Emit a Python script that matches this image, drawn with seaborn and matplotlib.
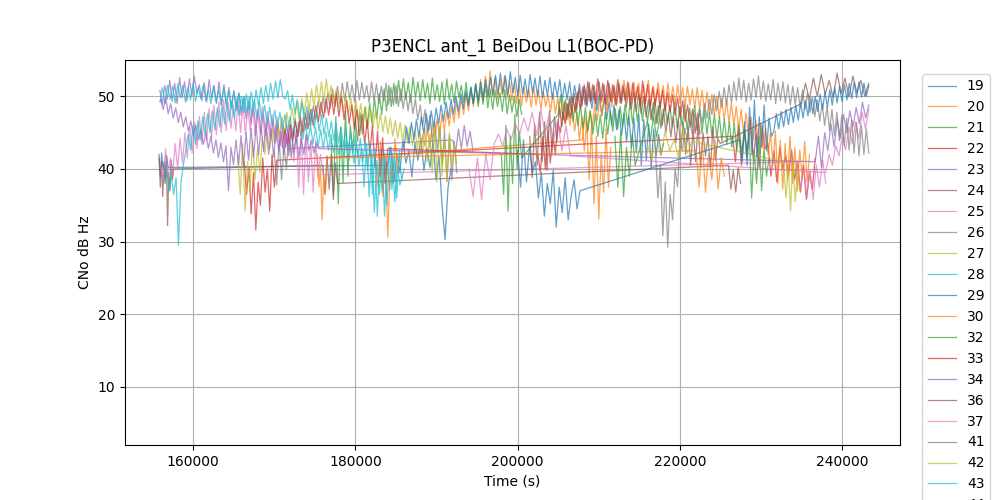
import numpy as np
import pandas as pd
import matplotlib
matplotlib.use("Agg")
import matplotlib.pyplot as plt
from matplotlib.lines import Line2D
import seaborn as sns

labels = ["19", "20", "21", "22", "23", "24", "25", "26", "27", "28", "29", "30",
          "32", "33", "34", "36", "37", "41", "42", "43", "44", "45", "46"]

# pass time spans (s) and CN0 values (dB Hz) per satellite
st19 = [(155800, 156900), (184000, 191800)]
sv19 = [[41.5, 39.0, 42.2, 40.1, 41.0, 38.8, 41.8, 40.2],
        [40.5, 43.0, 38.2, 42.1, 39.5, 44.0, 40.8, 42.5, 38.9, 43.6, 41.2, 44.3, 39.8, 42.9, 40.2, 43.8, 38.5, 41.7, 35.0, 30.3, 37.5, 40.0]]
st20 = [(188000, 211500)]
sv20 = [[42.0, 44.8, 43.1, 45.6, 42.9, 46.2, 44.0, 46.8, 44.5, 47.5, 45.2, 48.0, 45.9, 48.6, 46.4, 49.3, 47.0, 49.8, 47.5, 50.4,
         48.0, 51.0, 48.6, 51.6, 49.0, 52.3, 49.4, 52.8, 49.8, 53.5, 50.0, 52.6, 49.6, 52.2, 50.2, 52.9, 49.7, 52.0, 49.4, 51.8,
         49.0, 51.6, 48.7, 51.3, 49.2, 51.0, 48.5, 51.4, 48.8, 50.9, 48.2, 50.6, 48.6, 50.2, 47.9, 50.5, 47.6, 49.8, 47.2, 49.5,
         46.5, 49.0, 46.0, 48.4, 45.2, 47.8, 44.0, 47.2, 42.5, 46.5,
         38.5, 46.0, 35.2, 44.5, 33.1, 42.0, 36.8, 45.5, 37.5, 43.0]]
st21 = [(177000, 200500)]
sv21 = [[44.0, 36.5, 47.2, 35.2, 45.8, 38.1, 48.0, 39.0,
         46.0, 42.5, 47.2, 43.8, 47.8, 44.8, 48.5, 45.6, 49.0, 46.2, 49.8, 46.9, 50.4, 47.5, 51.0, 48.0, 51.5, 48.6, 51.8, 49.0, 52.2, 49.3, 52.4, 49.6,
         51.9, 49.2, 52.6, 49.8, 52.0, 49.4, 52.3, 49.7, 51.8, 49.0, 52.5, 49.5, 51.6, 49.3, 52.0, 48.9, 52.4, 49.6, 51.7, 49.1, 52.1, 49.8, 51.5, 49.2,
         51.9, 48.8, 51.3, 49.0, 51.8, 48.6, 51.2, 48.9, 51.5, 48.4, 51.0, 48.2, 50.8, 48.6, 50.5, 47.9, 50.9, 47.6, 50.2, 47.8, 50.0, 47.2, 49.6, 47.5]]
st22 = [(166300, 170300), (226500, 236700)]
sv22 = [[41.0, 36.5, 40.2, 33.8, 39.5, 31.6, 38.2, 35.0, 41.5, 36.8, 40.0, 34.2, 42.0, 37.5, 41.2],
        [44.5, 41.0, 46.2, 40.5, 45.0, 42.2, 47.0, 41.5, 44.8, 40.2, 46.0, 42.8, 43.5, 39.0, 42.5, 38.2, 43.0, 40.0, 41.8, 39.2, 42.6, 38.5, 41.0, 36.8, 40.5, 35.8, 39.5, 37.2, 41.5]]
st23 = [(155900, 172000), (192000, 194500)]
sv23 = [[50.8, 48.9, 51.5, 49.6, 52.2, 49.3, 51.8, 49.0, 52.6, 49.8, 52.0, 49.4, 52.4, 50.0, 52.8, 50.4, 51.6, 49.4, 51.9, 49.2, 52.3, 49.7, 51.5, 49.0, 52.0, 48.8, 51.6, 48.6, 51.2, 48.3, 50.8, 48.0, 50.5, 47.4,
         49.8, 46.9, 49.2, 46.2, 48.6, 45.6, 48.2, 45.1, 47.6, 44.6, 47.2, 44.0, 46.8, 43.6, 46.2, 43.2, 45.8, 42.9, 45.4, 42.8],
        [44.0, 42.2, 45.5, 42.8, 46.0, 43.1, 45.2, 42.5]]
st24 = [(155800, 157600), (176000, 177800), (226000, 227500)]
sv24 = [[42.0, 37.5, 41.0, 36.2, 40.5, 38.0, 41.8, 32.2, 39.5, 37.0, 41.2, 38.5, 40.0],
        [40.5, 36.5, 41.8, 37.2, 42.0, 35.8, 40.8, 38.0],
        [40.5, 37.2, 39.8, 36.8, 40.2, 38.0]]
st25 = [(156000, 176000), (234500, 238000)]
sv25 = [[40.5, 38.2, 42.8, 38.8, 41.5, 39.5,
         43.5, 40.0, 44.2, 40.8, 45.0, 41.5, 45.8, 42.2, 46.5, 42.8, 47.2, 43.4, 47.8, 43.9, 48.3, 44.3, 48.8, 44.7, 49.2, 45.0, 49.5, 45.3, 49.2, 45.6, 48.8, 45.2, 49.3, 45.0,
         48.8, 44.8, 48.5, 45.2, 49.0, 44.6, 48.2, 44.9, 48.6, 44.2, 47.9, 44.5, 47.5, 43.8, 47.2, 44.0, 46.8, 43.2, 46.4, 42.5, 46.0, 41.0,
         45.5, 37.5, 45.2, 36.5, 44.6, 38.2, 43.5, 36.8, 44.0, 38.8, 42.0, 39.2],
        [41.0, 37.2, 40.5, 36.0, 39.8, 35.8, 40.6, 37.5, 41.2, 38.0]]
st26 = [(170000, 192500)]
sv26 = [[42.5, 37.8, 44.0, 38.5, 43.2, 40.0, 44.8, 41.5,
         45.5, 43.6, 46.5, 44.5, 47.2, 45.4, 48.0, 46.0, 48.6, 46.8, 49.3, 47.3, 49.9, 47.8, 50.5, 48.3, 51.0, 48.6, 51.4, 49.0,
         51.8, 49.4, 52.0, 49.6, 51.6, 49.2, 52.2, 49.5, 51.9, 49.7, 51.5, 49.1, 52.0, 49.4, 51.7, 49.0, 51.4, 49.3, 51.8, 48.9, 51.2, 48.8, 51.5, 48.6, 51.0, 48.3, 50.6, 48.0, 50.2, 47.6,
         49.6, 46.8, 48.8, 46.0, 48.2, 45.0, 47.4, 43.8, 46.5, 42.5, 45.8, 40.6, 45.2, 38.2, 44.6, 38.5, 43.8, 39.5]]
st27 = [(165500, 192500)]
sv27 = [[42.0, 36.5, 43.5, 34.2, 41.0, 37.0, 44.0, 38.5, 42.8, 39.5,
         44.2, 42.0, 45.0, 42.8, 45.8, 43.5, 46.5, 44.2, 47.2, 44.8, 47.8, 45.5, 48.5, 46.2, 49.2, 46.8, 49.8, 47.4, 50.5, 48.0, 51.0, 48.5, 51.6, 49.0, 52.0, 49.3, 52.4, 49.6,
         51.5, 49.0, 51.0, 48.5, 50.6, 48.0, 50.1, 47.6, 49.7, 47.2, 49.3, 46.8, 49.0, 46.4, 48.6, 46.0, 48.3, 45.7, 48.0, 45.4, 47.6, 45.1, 47.3, 44.8, 47.0, 44.5, 46.7, 44.2, 46.4, 43.9, 46.1, 43.6, 45.8, 43.2, 45.5, 42.8, 45.2, 42.0, 45.6, 41.0,
         44.8, 39.5, 45.6, 38.2, 46.0, 39.0, 44.2, 38.6, 45.0, 40.2, 43.5, 40.8]]
st28 = [(155900, 185800)]
sv28 = [[49.2, 51.2, 49.0, 51.5, 49.6, 51.4, 49.1, 51.7, 49.8, 51.5, 49.2, 51.3, 49.5, 51.8, 49.3, 51.2, 49.7, 51.6, 49.4, 51.0, 49.0, 51.4, 49.2, 50.9, 48.8, 51.2, 49.0, 50.8, 48.6, 50.6, 48.4, 50.4, 48.1, 50.0,
         47.8, 49.9, 47.4, 49.5, 47.0, 49.2, 46.6, 48.8, 46.2, 48.5, 45.9, 48.1, 45.6, 47.8, 45.3, 47.5, 45.0, 47.2, 44.7, 46.9, 44.4, 46.6, 44.1, 46.3, 43.8, 46.0, 43.5, 45.7, 43.2, 45.4, 42.9, 45.1, 42.6, 44.8, 42.3, 44.5, 42.0, 44.2, 41.6, 43.9, 41.2, 43.6, 40.8, 43.3, 40.4, 43.0,
         37.5, 43.5, 36.2, 42.5, 34.0, 41.2, 36.5, 42.8, 33.5, 41.0, 37.0, 42.2, 35.5, 40.5, 37.8, 39.0]]
st29 = [(186000, 218000)]
sv29 = [[43.0, 45.8, 43.5, 46.4, 44.0, 46.8, 44.4, 47.2, 44.9, 47.6, 45.3, 48.0, 45.8, 48.4, 46.2, 48.8, 46.6, 49.2, 47.0, 49.6, 47.5, 50.0, 47.9, 50.4, 48.3, 50.8, 48.7, 51.2, 49.0, 51.6, 49.4, 52.0, 49.7, 52.3, 50.0, 52.6, 50.2, 52.9, 50.3, 53.2, 50.4, 52.8, 50.2, 53.4, 50.5, 52.6,
         50.1, 52.9, 50.3, 52.4, 49.9, 53.0, 50.4, 52.5, 50.0, 52.8, 49.8, 52.2, 50.1, 52.6, 49.6, 52.0, 49.9, 52.3, 49.4, 51.8, 49.6, 52.0, 49.2, 51.5, 49.4, 51.7, 48.9, 51.2, 48.6, 51.0, 48.3, 50.6, 48.0, 50.2,
         47.4, 49.8, 46.8, 49.3, 46.0, 48.8, 45.4, 48.2, 44.6, 47.7, 43.8, 47.3, 43.0, 47.0, 42.2, 47.5, 40.5, 46.8, 41.2, 46.2, 40.2, 45.5, 41.8, 44.8, 42.0, 43.5]]
st30 = [(182500, 185500), (208000, 236000)]
sv30 = [[41.0, 37.5, 43.8, 36.2, 42.0, 30.6, 40.5, 38.0, 44.2, 39.5, 42.0],
        [44.0, 47.3, 45.0, 48.0, 45.8, 48.8, 46.6, 49.6, 47.3, 50.3, 47.9, 51.0, 48.5, 51.5, 49.0, 51.9,
         49.2, 52.2, 49.5, 51.8, 49.0, 52.0, 49.6, 51.8, 49.0, 51.6, 49.3, 52.2, 48.8, 51.4, 49.4, 51.9, 49.1, 51.5, 48.7, 51.8, 49.2, 51.3, 48.9, 51.6, 49.0, 51.2, 48.6, 51.4, 48.8, 51.0, 48.4, 51.2, 48.2, 50.8, 48.0, 50.6, 47.7, 50.3, 47.4, 50.0, 47.1, 49.7, 46.8, 49.4,
         46.4, 49.0, 46.0, 48.6, 45.5, 48.2, 45.0, 47.7, 44.5, 47.2, 44.0, 46.7, 43.4, 46.2, 42.8, 45.6, 42.0, 45.0,
         40.5, 45.2, 38.0, 44.0, 37.2, 43.5, 38.5, 44.5, 38.0, 43.0, 37.0, 42.6, 38.8, 43.8, 38.2, 42.0]]
st32 = [(198000, 200500), (205000, 231000)]
sv32 = [[42.0, 36.5, 46.0, 34.2, 44.5, 38.0, 47.5, 40.0, 45.2, 41.5],
        [47.5, 50.2, 46.8, 49.6, 47.2, 49.9, 46.5, 49.2, 46.0, 48.8, 45.6, 48.5, 45.2, 48.0, 44.8, 47.6, 44.5, 47.4, 44.2, 47.8, 44.8, 48.0, 45.2, 48.3, 45.5, 48.6, 45.8, 48.9, 46.0, 49.2, 46.3, 49.5, 46.5, 49.8, 46.6, 49.5, 46.4, 49.2, 46.7, 49.6,
         46.3, 49.3, 46.0, 49.0, 46.2, 48.8, 45.8, 49.1, 45.6, 48.6, 45.9, 48.8, 45.4, 48.4, 45.7, 48.7, 45.3, 48.2, 45.0, 48.0, 44.8, 47.8, 44.5, 47.5, 44.2, 47.2, 43.8, 46.9, 43.4, 46.5, 43.0, 46.2, 42.5, 45.8, 42.0, 45.5, 41.5, 45.0,
         36.0, 42.5, 38.0, 44.5, 37.0, 42.8, 39.0, 41.5]]
st33 = [(171000, 184000), (202500, 222500)]
sv33 = [[43.0, 45.5, 43.4, 46.1, 43.9, 46.6, 44.5, 47.2, 45.0, 47.7, 45.5, 48.2, 46.0, 48.7, 46.5, 49.2, 47.0, 49.7, 47.4, 50.2, 47.5, 50.4, 47.2, 49.9, 46.8, 49.4, 46.2, 48.8, 45.5, 48.2, 44.6, 47.5, 43.5, 46.8, 42.0, 46.0, 40.2, 45.2, 39.0, 44.3, 38.0, 42.8],
        [42.0, 39.5, 44.5, 40.0, 45.5, 40.8, 44.8, 42.0,
         46.5, 45.0, 47.8, 46.2, 48.9, 47.0, 49.8, 47.8, 50.6, 48.3,
         51.3, 48.8, 52.0, 49.2, 51.6, 49.0, 52.4, 49.5, 51.8, 49.0, 52.2, 49.3, 51.6, 48.9, 52.3, 49.1, 51.5, 49.4, 52.0, 48.8, 51.8, 49.2, 51.4, 48.7, 52.1, 49.0, 51.6, 48.6, 51.2, 48.8, 51.0, 48.4, 50.8, 48.0, 50.5, 47.8, 50.2, 47.4, 49.8, 47.0,
         49.4, 46.5, 48.8, 45.8, 48.2, 44.9, 47.6, 44.8]]
st34 = [(156000, 175500), (236700, 243300)]
sv34 = [[49.5, 48.2, 49.8, 47.6, 49.0, 47.0, 48.4, 46.4, 47.8, 45.8, 47.2, 45.2, 46.6, 44.6, 46.0, 44.0, 45.4, 43.4, 44.9, 42.8, 44.5, 42.2, 44.0, 41.6, 43.6, 41.0, 43.2, 37.0, 43.0, 40.6,
         44.0, 40.5, 44.6, 40.2, 45.0, 41.2, 45.6, 41.6, 46.0, 42.0, 45.8, 42.4, 46.2, 42.0, 45.5, 41.6, 46.0, 42.5, 45.2, 42.0, 44.8, 41.8, 45.4, 42.2, 44.6, 41.6, 44.2, 42.0, 44.8, 42.5, 44.0, 42.2, 43.6, 42.8],
        [41.0, 44.5, 40.2, 45.0, 42.5, 46.2, 43.0, 46.8, 44.2, 47.5, 45.0, 48.0, 45.8, 48.5, 46.2, 49.2, 47.0, 48.8]]
st36 = [(201500, 225000), (235000, 243300)]
sv36 = [[44.5, 38.8, 46.2, 40.5, 47.8, 41.0, 46.5, 39.8, 48.0, 42.2, 47.2, 43.8,
         48.5, 45.8, 49.2, 46.8, 49.8, 47.6, 50.4, 48.2, 51.0, 48.6,
         51.6, 49.0, 51.9, 49.4, 51.5, 48.9, 52.0, 49.2, 51.6, 48.8, 51.8, 49.3, 51.3, 48.7, 51.6, 49.0, 51.2, 48.5, 51.0, 48.2, 50.7, 47.9, 50.4, 47.6, 50.0, 47.2,
         49.6, 46.8, 49.2, 46.2, 48.7, 45.6, 48.2, 45.0, 47.7, 44.4, 47.2, 43.6, 46.8, 42.8, 46.4, 42.0,
         45.8, 40.5, 45.5, 41.0, 46.2, 40.2, 45.0, 41.8, 44.5, 40.0, 45.8, 41.2, 44.2, 43.5],
        [49.0, 51.8, 49.6, 52.5, 50.0, 53.0, 50.3, 52.2, 49.8, 53.2, 50.4, 52.5, 49.9, 52.8, 50.5, 52.2, 50.0, 51.8]]
st37 = [(194000, 206500), (238000, 243300)]
sv37 = [[40.0, 36.2, 41.5, 35.8, 42.0, 38.5, 43.5, 44.8, 43.2, 45.5, 44.0, 46.2, 44.8, 47.0, 45.2, 47.8, 44.6, 48.2, 45.0, 47.5, 43.8, 46.8, 42.5, 46.0, 41.8],
        [39.5, 42.0, 40.5, 43.2, 41.8, 44.5, 42.6, 45.8, 43.5, 46.5, 44.2, 47.8, 45.5, 48.2]]
st41 = [(217000, 243300)]
sv41 = [[42.5, 36.0, 40.5, 30.8, 38.2, 29.2, 36.5, 33.0, 40.0, 37.5,
         44.0, 42.5, 45.6, 43.8, 46.8, 44.8, 47.6, 45.6, 48.4, 46.3, 49.0, 47.0, 49.6, 47.5, 50.2, 48.0, 50.7, 48.5, 51.2, 48.8, 51.6, 49.1,
         52.0, 49.4, 52.5, 49.6, 52.2, 49.2, 51.8, 49.5, 52.4, 49.8, 52.8, 49.6, 52.1, 49.3, 51.7, 49.5, 52.3, 49.0, 51.8, 49.4, 52.0, 49.1, 51.6, 48.8, 51.4, 48.9, 51.2, 48.5, 50.9, 48.2,
         50.5, 47.8, 50.0, 47.2, 49.5, 46.6, 49.0, 46.0, 48.6, 45.3, 48.2, 44.6, 47.8, 43.9, 47.4, 43.2, 47.0, 42.6, 46.7, 42.2, 46.4, 41.8, 46.0, 42.0, 45.5, 42.2]]
st42 = [(216000, 221500), (232800, 234800)]
sv42 = [[43.5, 41.2, 44.8, 41.8, 45.2, 42.5, 44.0, 41.5, 45.5, 42.2, 43.8],
        [41.0, 36.0, 40.2, 34.2, 41.5, 35.5, 39.8, 37.0]]
st43 = [(156400, 186000)]
sv43 = [[38.2, 40.5, 37.0, 39.2, 36.5, 38.8, 29.5, 38.0, 40.5, 42.5,
         44.8, 42.6, 46.0, 43.4, 46.6, 44.0, 47.2, 44.6, 47.6, 45.0, 48.0, 45.4, 48.4, 45.8, 48.8, 46.2, 49.1, 46.6, 49.4, 47.0, 49.7, 47.4, 50.0, 47.8, 50.3, 48.1, 50.6, 48.4, 50.9, 48.7, 51.2, 49.0, 51.5, 49.3, 51.8, 49.6, 52.1, 49.8, 52.3, 50.0,
         49.6, 50.8, 48.2, 50.2, 47.6, 49.6, 47.0, 49.1, 46.5, 48.6, 46.0, 48.2, 45.6, 47.8, 45.2, 47.4, 44.8, 47.0, 44.4, 46.6, 44.0, 46.2, 43.6, 45.8, 43.1, 45.4, 42.6, 45.0, 42.1, 44.6, 41.6, 44.2, 41.0, 43.8,
         39.8, 43.6, 36.5, 42.8, 33.5, 41.5, 36.8, 42.2, 35.0, 43.0, 37.2, 41.8, 36.0, 42.5, 38.5, 40.0]]
st44 = [(200000, 207700), (227400, 243300)]
sv44 = [[42.5, 37.5, 44.0, 38.2, 43.0, 39.5, 41.0, 36.0, 39.5, 33.5, 38.0, 35.2, 39.8, 32.0, 37.5, 34.0, 38.8, 33.0, 36.2, 38.5, 34.5, 37.0],
        [44.0, 41.0, 46.5, 40.5, 48.5, 42.0, 49.5, 41.5, 47.2, 43.0, 48.8, 42.5, 47.0, 44.5,
         45.2, 47.6, 45.5, 47.9, 45.8, 48.2, 46.1, 48.5, 46.4, 48.8, 46.7, 49.1, 47.0, 49.4, 47.3, 49.7, 47.6, 50.0, 47.9, 50.3, 48.2, 50.6, 48.5, 50.9, 48.8, 51.2, 49.1, 51.4, 49.3, 51.6, 49.5, 51.8, 49.7, 51.9, 49.8, 52.0, 49.9, 51.8, 50.0, 51.5]]
st45 = [(175300, 176500), (222000, 225500)]
sv45 = [[42.0, 37.5, 40.2, 33.0, 39.0, 36.5, 41.5],
        [42.5, 37.5, 43.8, 36.8, 42.0, 38.5, 44.0, 37.2, 41.5, 39.0]]
st46 = [(212000, 214500), (216000, 217500)]
sv46 = [[44.5, 37.5, 45.2, 36.2, 43.0, 39.0, 44.8, 40.5],
        [46.5, 44.0, 47.2, 44.5, 46.8]]

spans = [st19, st20, st21, st22, st23, st24, st25, st26, st27, st28, st29, st30,
         st32, st33, st34, st36, st37, st41, st42, st43, st44, st45, st46]
values = [sv19, sv20, sv21, sv22, sv23, sv24, sv25, sv26, sv27, sv28, sv29, sv30,
          sv32, sv33, sv34, sv36, sv37, sv41, sv42, sv43, sv44, sv45, sv46]

rows = []
for lab, sp, vv in zip(labels, spans, values):
    for (t0, t1), v in zip(sp, vv):
        for t, c in zip(np.linspace(t0, t1, len(v)), v):
            rows.append((lab, t, c))
df = pd.DataFrame(rows, columns=["prn", "time", "cn0"])

fig, ax = plt.subplots(figsize=(10, 5), dpi=100)
palette = sns.color_palette("tab10", len(labels))
color_map = dict(zip(labels, palette))
sns.lineplot(data=df, x="time", y="cn0", hue="prn", hue_order=labels,
             palette=color_map, estimator=None, errorbar=None, sort=True,
             linewidth=0.9, alpha=0.7, legend=False, ax=ax)

ax.set_xlim(151600, 247150)
ax.set_ylim(2.0, 55.0)
ax.grid(True)
ax.set_title("P3ENCL ant_1 BeiDou L1(BOC-PD)")
ax.set_xlabel("Time (s)")
ax.set_ylabel("CNo dB Hz")

handles = [Line2D([0], [0], color=color_map[l], lw=0.9, alpha=0.7) for l in labels]
ax.legend(handles, labels, loc="upper left", bbox_to_anchor=(1.029, 0.964),
          borderaxespad=0)

fig.savefig("out.png", dpi=100)
